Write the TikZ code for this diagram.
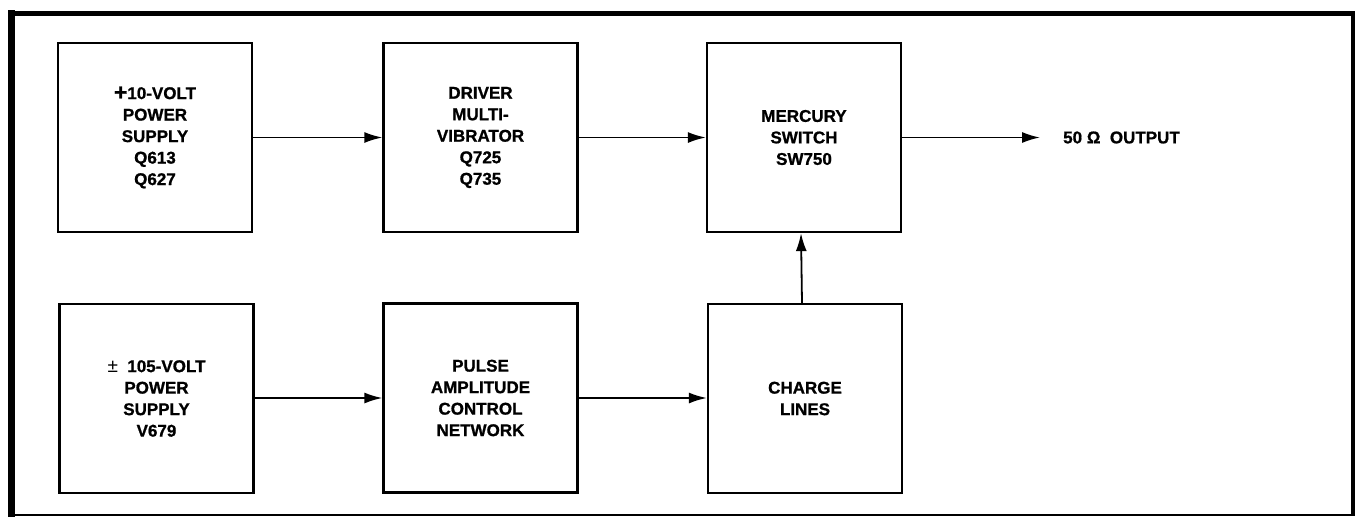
\documentclass[tikz,border=0pt]{standalone}
\usepackage{fontspec}
\setmainfont{Liberation Sans}
\newfontfamily\heavyfont{Liberation Sans}[UprightFont={* Bold},FakeBold=1.0]
\usetikzlibrary{arrows.meta,calc}
\begin{document}
\begin{tikzpicture}[x=1pt,y=-1pt,
  blk/.style={draw,line width=2.3pt,minimum width=194pt,minimum height=189pt,
    align=center,inner sep=0pt,
    font=\fontsize{17}{21.5}\selectfont\heavyfont},
  conn/.style={line width=1.8pt,-{Latex[length=18pt,width=11pt]}},
  lbl/.style={font=\fontsize{17}{21.5}\selectfont\heavyfont,inner sep=0pt}]
\useasboundingbox (0,0) rectangle (1358,517);
\fill[white] (0,0) rectangle (1358,517);
% frame
\draw[line width=7pt] (11,10) -- (11,517);
\draw[line width=5pt] (8,13) -- (1355,13);
\draw[line width=4pt] (1353,11) -- (1353,516);
\draw[line width=1.2pt] (11,515) -- (1353,515);
% blocks
\node[blk] (b1) at (155,137.5) {{\fontsize{23}{21.5}\selectfont\raisebox{-1pt}{+}}10-VOLT\\POWER\\SUPPLY\\Q613\\Q627};
\node[blk] (b2) at (480.5,137.5) {DRIVER\\MULTI-\\VIBRATOR\\Q725\\Q735};
\node[blk] (b3) at (804,137.5) {MERCURY\\SWITCH\\SW750};
\node[blk] (b4) at (156.5,398.5) {{\normalfont\fontsize{19}{21.5}\selectfont±}\ \ 105-VOLT\\POWER\\SUPPLY\\V679};
\node[blk] (b5) at (480.5,398) {PULSE\\AMPLITUDE\\CONTROL\\NETWORK};
\node[blk] (b6) at (805,398.5) {CHARGE\\LINES};
\node[lbl,anchor=west] (out) at (1063,137.5) {50 Ω\ \ OUTPUT};
\coordinate (oend) at (1040,137.5);
% connectors
\draw[conn] (b1.east) -- (b2.west);
\draw[conn] (b2.east) -- (b3.west);
\draw[conn] (b4.east |- b5.west) -- (b5.west);
\draw[conn] (b5.east) -- (b6.west |- b5.east);
\draw[conn] (b3.east) -- (oend);
\draw[conn] ($(b6.north)+(-3,0)$) -- ($(b3.south)+(-3,0)$);
\end{tikzpicture}
\end{document}
